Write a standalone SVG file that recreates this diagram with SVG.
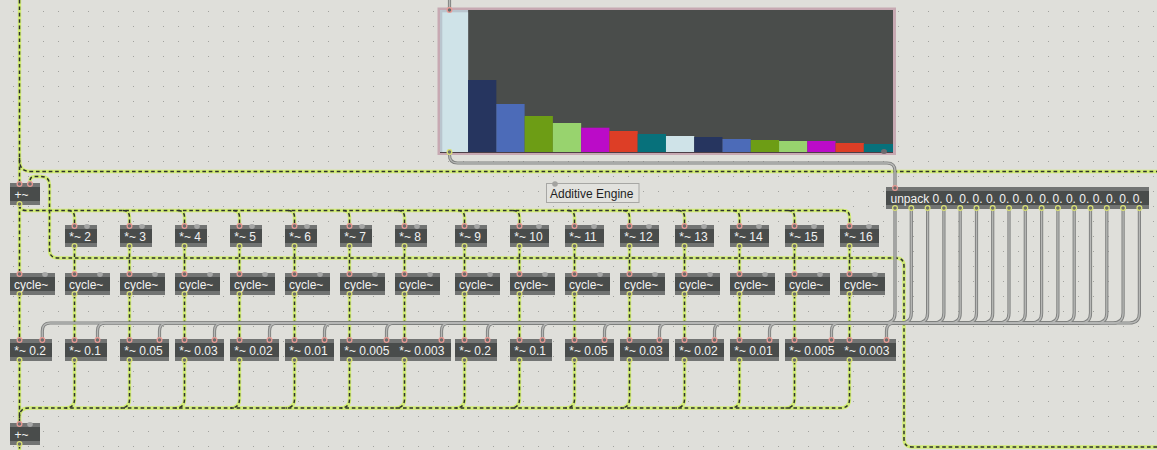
<svg xmlns="http://www.w3.org/2000/svg" xmlns:xlink="http://www.w3.org/1999/xlink" width="1157" height="450" viewBox="0 0 1157 450">
<style>
.sigbase{fill:none;stroke:#d2ec76;stroke-width:3.4}
.sigdash{fill:none;stroke:#2c302d;stroke-width:1.5;stroke-dasharray:3.6 2.8}
.graybase{fill:none;stroke:#7f807f;stroke-width:3.2}
.grayhi{fill:none;stroke:#b7b8b6;stroke-width:1.3}
.st{fill:#727473}
.bx{fill:#494c4b}
.tx{font-family:"Liberation Sans",Arial,sans-serif;font-size:12px;fill:#f2f2f2}
.inc{fill:#6a6c6b;stroke:#eb9b95;stroke-width:1.2}
.inu{fill:#a6a7a6}
.out{fill:#6a6c6b;stroke:#dbe276;stroke-width:1.2}
.cm{font-family:"Liberation Sans",Arial,sans-serif;font-size:12px;fill:#1e1e1e}
</style>
<defs>
<pattern id="grid" width="15" height="15" patternUnits="userSpaceOnUse"><rect x="13" y="11" width="1" height="1" fill="#a2a29e"/></pattern>
</defs>
<rect width="1157" height="450" fill="#dfdfda"/>
<rect width="1157" height="450" fill="url(#grid)"/>

<g id="connectors">
<g class="sigbase"><g id="sigpaths">
<path d="M19.5,0V183"/>
<path d="M19.5,158C19.5,168 22,171.5 32,171.5H1157"/>
<path d="M1157,447H912Q904,447 904,439V266Q904,258 896,258H58Q49.5,258 49.5,250V185Q49.5,176.5 41,176.5H35Q30,176.5 30,181V183"/>
<path d="M19.5,205V273"/>
<path d="M19.5,205Q19.5,210.5 26,210.5H843Q849.5,210.5 849.5,217V225"/>
<path d="M68,210.5Q74.5,210.5 74.5,217V225"/>
<path d="M123,210.5Q129.5,210.5 129.5,217V225"/>
<path d="M178,210.5Q184.5,210.5 184.5,217V225"/>
<path d="M233,210.5Q239.5,210.5 239.5,217V225"/>
<path d="M288,210.5Q294.5,210.5 294.5,217V225"/>
<path d="M343,210.5Q349.5,210.5 349.5,217V225"/>
<path d="M398,210.5Q404.5,210.5 404.5,217V225"/>
<path d="M458,210.5Q464.5,210.5 464.5,217V225"/>
<path d="M513,210.5Q519.5,210.5 519.5,217V225"/>
<path d="M568,210.5Q574.5,210.5 574.5,217V225"/>
<path d="M623,210.5Q629.5,210.5 629.5,217V225"/>
<path d="M678,210.5Q684.5,210.5 684.5,217V225"/>
<path d="M733,210.5Q739.5,210.5 739.5,217V225"/>
<path d="M788,210.5Q794.5,210.5 794.5,217V225"/>
<path d="M74.5,247V273M129.5,247V273M184.5,247V273M239.5,247V273M294.5,247V273M349.5,247V273M404.5,247V273M464.5,247V273M519.5,247V273M574.5,247V273M629.5,247V273M684.5,247V273M739.5,247V273M794.5,247V273M849.5,247V273"/>
<path d="M19.5,295V339M74.5,295V339M129.5,295V339M184.5,295V339M239.5,295V339M294.5,295V339M349.5,295V339M404.5,295V339M464.5,295V339M519.5,295V339M574.5,295V339M629.5,295V339M684.5,295V339M739.5,295V339M794.5,295V339M849.5,295V339"/>
<path d="M19.5,361V423"/>
<path d="M849.5,361V399Q849.5,408 840.5,408H28.5Q19.5,408 19.5,417V423"/>
<path d="M74.5,361V399Q74.5,408 65.5,408"/>
<path d="M129.5,361V399Q129.5,408 120.5,408"/>
<path d="M184.5,361V399Q184.5,408 175.5,408"/>
<path d="M239.5,361V399Q239.5,408 230.5,408"/>
<path d="M294.5,361V399Q294.5,408 285.5,408"/>
<path d="M349.5,361V399Q349.5,408 340.5,408"/>
<path d="M404.5,361V399Q404.5,408 395.5,408"/>
<path d="M464.5,361V399Q464.5,408 455.5,408"/>
<path d="M519.5,361V399Q519.5,408 510.5,408"/>
<path d="M574.5,361V399Q574.5,408 565.5,408"/>
<path d="M629.5,361V399Q629.5,408 620.5,408"/>
<path d="M684.5,361V399Q684.5,408 675.5,408"/>
<path d="M739.5,361V399Q739.5,408 730.5,408"/>
<path d="M794.5,361V399Q794.5,408 785.5,408"/>
<path d="M19.5,445V450"/>
</g></g>
<use xlink:href="#sigpaths" href="#sigpaths" class="sigdash"/>
<g class="graybase"><g id="graypaths">
<path d="M449.5,0V10"/>
<path d="M449.5,152V155Q449.5,163 457.5,163H887Q895,163 895,171V187"/>
<path d="M895,209V313Q895,323 885,323H50.3Q42.3,323 42.3,331V339"/>
<path d="M911.3,209V313Q911.3,323 901.3,323H105.5Q97.5,323 97.5,331V339"/>
<path d="M927.6,209V313Q927.6,323 917.6,323H167.5Q159.5,323 159.5,331V339"/>
<path d="M943.9,209V313Q943.9,323 933.9,323H222.5Q214.5,323 214.5,331V339"/>
<path d="M960.2,209V313Q960.2,323 950.2,323H277.5Q269.5,323 269.5,331V339"/>
<path d="M976.5,209V313Q976.5,323 966.5,323H332.5Q324.5,323 324.5,331V339"/>
<path d="M992.7,209V313Q992.7,323 982.7,323H394.5Q386.5,323 386.5,331V339"/>
<path d="M1009,209V313Q1009,323 999,323H449.5Q441.5,323 441.5,331V339"/>
<path d="M1025.3,209V313Q1025.3,323 1015.3,323H495.5Q487.5,323 487.5,331V339"/>
<path d="M1041.6,209V313Q1041.6,323 1031.6,323H550.5Q542.5,323 542.5,331V339"/>
<path d="M1057.9,209V313Q1057.9,323 1047.9,323H612.5Q604.5,323 604.5,331V339"/>
<path d="M1074.2,209V313Q1074.2,323 1064.2,323H667.5Q659.5,323 659.5,331V339"/>
<path d="M1090.5,209V313Q1090.5,323 1080.5,323H722.5Q714.5,323 714.5,331V339"/>
<path d="M1106.8,209V313Q1106.8,323 1096.8,323H777.5Q769.5,323 769.5,331V339"/>
<path d="M1123.1,209V313Q1123.1,323 1113.1,323H839.5Q831.5,323 831.5,331V339"/>
<path d="M1139.4,209V313Q1139.4,323 1129.4,323H894.5Q886.5,323 886.5,331V339"/>
</g></g>
<use xlink:href="#graypaths" href="#graypaths" class="grayhi"/>
</g>

<g id="n-multislider">
<rect x="437.5" y="7.5" width="458.5" height="147.5" fill="#c7a9b2"/>
<rect x="440" y="10" width="453" height="142" fill="#4a4d4b"/>
<rect x="440" y="10" width="28.1" height="142" fill="#b9c5ce"/>
<rect x="442.3" y="12.3" width="25.8" height="139.7" fill="#cfe3e8"/>
<rect x="468.07" y="80" width="28.27" height="72" fill="#26355f"/>
<rect x="496.34" y="104" width="28.27" height="48" fill="#4c6bb8"/>
<rect x="524.61" y="116" width="28.27" height="36" fill="#6d9d15"/>
<rect x="552.88" y="123" width="28.27" height="29" fill="#98d36e"/>
<rect x="581.15" y="127.7" width="28.27" height="24.3" fill="#bb0bc8"/>
<rect x="609.42" y="131" width="28.27" height="21" fill="#dd3e26"/>
<rect x="637.69" y="134" width="28.27" height="18" fill="#07717b"/>
<rect x="665.96" y="136" width="28.27" height="16" fill="#cfe3e8"/>
<rect x="694.23" y="137" width="28.27" height="15" fill="#26355f"/>
<rect x="722.5" y="139" width="28.27" height="13" fill="#4c6bb8"/>
<rect x="750.77" y="140" width="28.27" height="12" fill="#6d9d15"/>
<rect x="779.04" y="141" width="28.27" height="11" fill="#98d36e"/>
<rect x="807.31" y="141" width="28.27" height="11" fill="#bb0bc8"/>
<rect x="835.58" y="143" width="28.27" height="9" fill="#dd3e26"/>
<rect x="863.85" y="144" width="29.15" height="8" fill="#07717b"/>
<line x1="440" y1="152.5" x2="893" y2="152.5" stroke="#4d3f46" stroke-width="1"/>
<circle class="inc" cx="449.5" cy="10" r="2.4"/>
<circle class="out" cx="449.5" cy="152" r="2.4"/>
<ellipse cx="884" cy="151.5" rx="3" ry="2.5" fill="#6f6a6e"/>
</g>

<g id="n-comment">
<rect x="546.5" y="183.5" width="92.5" height="19" fill="#e2e2de" stroke="#a7a7a4" stroke-width="1"/>
<circle cx="555" cy="184" r="2.8" fill="#a3a3a0"/>
<text class="cm" x="550" y="197.5">Additive Engine</text>
</g>

<g id="n-unpack" transform="translate(886,187)">
<rect class="st" width="263" height="22"/><rect class="bx" y="4" width="263" height="14"/>
<text class="tx" x="4.5" y="15.5">unpack 0. 0. 0. 0. 0. 0. 0. 0. 0. 0. 0. 0. 0. 0. 0. 0.</text>
<circle class="inc" cx="9" cy="1" r="2.4"/>
<g class="out"><circle cx="9" cy="21" r="2.4"/><circle cx="25.3" cy="21" r="2.4"/><circle cx="41.6" cy="21" r="2.4"/><circle cx="57.9" cy="21" r="2.4"/><circle cx="74.2" cy="21" r="2.4"/><circle cx="90.5" cy="21" r="2.4"/><circle cx="106.7" cy="21" r="2.4"/><circle cx="123" cy="21" r="2.4"/><circle cx="139.3" cy="21" r="2.4"/><circle cx="155.6" cy="21" r="2.4"/><circle cx="171.9" cy="21" r="2.4"/><circle cx="188.2" cy="21" r="2.4"/><circle cx="204.5" cy="21" r="2.4"/><circle cx="220.8" cy="21" r="2.4"/><circle cx="237.1" cy="21" r="2.4"/><circle cx="253.4" cy="21" r="2.4"/></g>
</g>

<g id="n-plus-top" transform="translate(10,183)">
<rect class="st" width="30" height="22"/><rect class="bx" y="4" width="30" height="14"/>
<text class="tx" x="4.5" y="15.5">+~</text>
<circle class="inc" cx="9.5" cy="1" r="2.4"/><circle class="inc" cx="20" cy="1" r="2.4"/><circle class="out" cx="9.5" cy="21" r="2.4"/>
</g>

<g id="n-m2" transform="translate(65,225)"><rect class="st" width="32" height="22"/><rect class="bx" y="4" width="32" height="14"/><text class="tx" x="4.3" y="15.5">*~ 2</text><circle class="inc" cx="9.5" cy="1" r="2.4"/><ellipse class="inu" cx="22" cy="1.5" rx="2.8" ry="2.4"/><circle class="out" cx="9.5" cy="21" r="2.4"/></g>
<g id="n-m3" transform="translate(120,225)"><rect class="st" width="32" height="22"/><rect class="bx" y="4" width="32" height="14"/><text class="tx" x="4.3" y="15.5">*~ 3</text><circle class="inc" cx="9.5" cy="1" r="2.4"/><ellipse class="inu" cx="22" cy="1.5" rx="2.8" ry="2.4"/><circle class="out" cx="9.5" cy="21" r="2.4"/></g>
<g id="n-m4" transform="translate(175,225)"><rect class="st" width="32" height="22"/><rect class="bx" y="4" width="32" height="14"/><text class="tx" x="4.3" y="15.5">*~ 4</text><circle class="inc" cx="9.5" cy="1" r="2.4"/><ellipse class="inu" cx="22" cy="1.5" rx="2.8" ry="2.4"/><circle class="out" cx="9.5" cy="21" r="2.4"/></g>
<g id="n-m5" transform="translate(230,225)"><rect class="st" width="32" height="22"/><rect class="bx" y="4" width="32" height="14"/><text class="tx" x="4.3" y="15.5">*~ 5</text><circle class="inc" cx="9.5" cy="1" r="2.4"/><ellipse class="inu" cx="22" cy="1.5" rx="2.8" ry="2.4"/><circle class="out" cx="9.5" cy="21" r="2.4"/></g>
<g id="n-m6" transform="translate(285,225)"><rect class="st" width="32" height="22"/><rect class="bx" y="4" width="32" height="14"/><text class="tx" x="4.3" y="15.5">*~ 6</text><circle class="inc" cx="9.5" cy="1" r="2.4"/><ellipse class="inu" cx="22" cy="1.5" rx="2.8" ry="2.4"/><circle class="out" cx="9.5" cy="21" r="2.4"/></g>
<g id="n-m7" transform="translate(340,225)"><rect class="st" width="32" height="22"/><rect class="bx" y="4" width="32" height="14"/><text class="tx" x="4.3" y="15.5">*~ 7</text><circle class="inc" cx="9.5" cy="1" r="2.4"/><ellipse class="inu" cx="22" cy="1.5" rx="2.8" ry="2.4"/><circle class="out" cx="9.5" cy="21" r="2.4"/></g>
<g id="n-m8" transform="translate(395,225)"><rect class="st" width="32" height="22"/><rect class="bx" y="4" width="32" height="14"/><text class="tx" x="4.3" y="15.5">*~ 8</text><circle class="inc" cx="9.5" cy="1" r="2.4"/><ellipse class="inu" cx="22" cy="1.5" rx="2.8" ry="2.4"/><circle class="out" cx="9.5" cy="21" r="2.4"/></g>
<g id="n-m9" transform="translate(455,225)"><rect class="st" width="32" height="22"/><rect class="bx" y="4" width="32" height="14"/><text class="tx" x="4.3" y="15.5">*~ 9</text><circle class="inc" cx="9.5" cy="1" r="2.4"/><ellipse class="inu" cx="22" cy="1.5" rx="2.8" ry="2.4"/><circle class="out" cx="9.5" cy="21" r="2.4"/></g>
<g id="n-m10" transform="translate(510,225)"><rect class="st" width="39" height="22"/><rect class="bx" y="4" width="39" height="14"/><text class="tx" x="4.3" y="15.5">*~ 10</text><circle class="inc" cx="9.5" cy="1" r="2.4"/><ellipse class="inu" cx="29" cy="1.5" rx="2.8" ry="2.4"/><circle class="out" cx="9.5" cy="21" r="2.4"/></g>
<g id="n-m11" transform="translate(565,225)"><rect class="st" width="39" height="22"/><rect class="bx" y="4" width="39" height="14"/><text class="tx" x="4.3" y="15.5">*~ 11</text><circle class="inc" cx="9.5" cy="1" r="2.4"/><ellipse class="inu" cx="29" cy="1.5" rx="2.8" ry="2.4"/><circle class="out" cx="9.5" cy="21" r="2.4"/></g>
<g id="n-m12" transform="translate(620,225)"><rect class="st" width="39" height="22"/><rect class="bx" y="4" width="39" height="14"/><text class="tx" x="4.3" y="15.5">*~ 12</text><circle class="inc" cx="9.5" cy="1" r="2.4"/><ellipse class="inu" cx="29" cy="1.5" rx="2.8" ry="2.4"/><circle class="out" cx="9.5" cy="21" r="2.4"/></g>
<g id="n-m13" transform="translate(675,225)"><rect class="st" width="39" height="22"/><rect class="bx" y="4" width="39" height="14"/><text class="tx" x="4.3" y="15.5">*~ 13</text><circle class="inc" cx="9.5" cy="1" r="2.4"/><ellipse class="inu" cx="29" cy="1.5" rx="2.8" ry="2.4"/><circle class="out" cx="9.5" cy="21" r="2.4"/></g>
<g id="n-m14" transform="translate(730,225)"><rect class="st" width="39" height="22"/><rect class="bx" y="4" width="39" height="14"/><text class="tx" x="4.3" y="15.5">*~ 14</text><circle class="inc" cx="9.5" cy="1" r="2.4"/><ellipse class="inu" cx="29" cy="1.5" rx="2.8" ry="2.4"/><circle class="out" cx="9.5" cy="21" r="2.4"/></g>
<g id="n-m15" transform="translate(785,225)"><rect class="st" width="39" height="22"/><rect class="bx" y="4" width="39" height="14"/><text class="tx" x="4.3" y="15.5">*~ 15</text><circle class="inc" cx="9.5" cy="1" r="2.4"/><ellipse class="inu" cx="29" cy="1.5" rx="2.8" ry="2.4"/><circle class="out" cx="9.5" cy="21" r="2.4"/></g>
<g id="n-m16" transform="translate(840,225)"><rect class="st" width="39" height="22"/><rect class="bx" y="4" width="39" height="14"/><text class="tx" x="4.3" y="15.5">*~ 16</text><circle class="inc" cx="9.5" cy="1" r="2.4"/><ellipse class="inu" cx="29" cy="1.5" rx="2.8" ry="2.4"/><circle class="out" cx="9.5" cy="21" r="2.4"/></g>

<g id="n-cyc1" transform="translate(10,273)"><rect class="st" width="45" height="22"/><rect class="bx" y="4" width="45" height="14"/><text class="tx" x="4" y="15.5">cycle~</text><circle class="inc" cx="9.5" cy="1" r="2.4"/><ellipse class="inu" cx="35" cy="1.5" rx="2.8" ry="2.4"/><circle class="out" cx="9.5" cy="21" r="2.4"/></g>
<g id="n-cyc2" transform="translate(65,273)"><rect class="st" width="45" height="22"/><rect class="bx" y="4" width="45" height="14"/><text class="tx" x="4" y="15.5">cycle~</text><circle class="inc" cx="9.5" cy="1" r="2.4"/><ellipse class="inu" cx="35" cy="1.5" rx="2.8" ry="2.4"/><circle class="out" cx="9.5" cy="21" r="2.4"/></g>
<g id="n-cyc3" transform="translate(120,273)"><rect class="st" width="45" height="22"/><rect class="bx" y="4" width="45" height="14"/><text class="tx" x="4" y="15.5">cycle~</text><circle class="inc" cx="9.5" cy="1" r="2.4"/><ellipse class="inu" cx="35" cy="1.5" rx="2.8" ry="2.4"/><circle class="out" cx="9.5" cy="21" r="2.4"/></g>
<g id="n-cyc4" transform="translate(175,273)"><rect class="st" width="45" height="22"/><rect class="bx" y="4" width="45" height="14"/><text class="tx" x="4" y="15.5">cycle~</text><circle class="inc" cx="9.5" cy="1" r="2.4"/><ellipse class="inu" cx="35" cy="1.5" rx="2.8" ry="2.4"/><circle class="out" cx="9.5" cy="21" r="2.4"/></g>
<g id="n-cyc5" transform="translate(230,273)"><rect class="st" width="45" height="22"/><rect class="bx" y="4" width="45" height="14"/><text class="tx" x="4" y="15.5">cycle~</text><circle class="inc" cx="9.5" cy="1" r="2.4"/><ellipse class="inu" cx="35" cy="1.5" rx="2.8" ry="2.4"/><circle class="out" cx="9.5" cy="21" r="2.4"/></g>
<g id="n-cyc6" transform="translate(285,273)"><rect class="st" width="45" height="22"/><rect class="bx" y="4" width="45" height="14"/><text class="tx" x="4" y="15.5">cycle~</text><circle class="inc" cx="9.5" cy="1" r="2.4"/><ellipse class="inu" cx="35" cy="1.5" rx="2.8" ry="2.4"/><circle class="out" cx="9.5" cy="21" r="2.4"/></g>
<g id="n-cyc7" transform="translate(340,273)"><rect class="st" width="45" height="22"/><rect class="bx" y="4" width="45" height="14"/><text class="tx" x="4" y="15.5">cycle~</text><circle class="inc" cx="9.5" cy="1" r="2.4"/><ellipse class="inu" cx="35" cy="1.5" rx="2.8" ry="2.4"/><circle class="out" cx="9.5" cy="21" r="2.4"/></g>
<g id="n-cyc8" transform="translate(395,273)"><rect class="st" width="45" height="22"/><rect class="bx" y="4" width="45" height="14"/><text class="tx" x="4" y="15.5">cycle~</text><circle class="inc" cx="9.5" cy="1" r="2.4"/><ellipse class="inu" cx="35" cy="1.5" rx="2.8" ry="2.4"/><circle class="out" cx="9.5" cy="21" r="2.4"/></g>
<g id="n-cyc9" transform="translate(455,273)"><rect class="st" width="45" height="22"/><rect class="bx" y="4" width="45" height="14"/><text class="tx" x="4" y="15.5">cycle~</text><circle class="inc" cx="9.5" cy="1" r="2.4"/><ellipse class="inu" cx="35" cy="1.5" rx="2.8" ry="2.4"/><circle class="out" cx="9.5" cy="21" r="2.4"/></g>
<g id="n-cyc10" transform="translate(510,273)"><rect class="st" width="45" height="22"/><rect class="bx" y="4" width="45" height="14"/><text class="tx" x="4" y="15.5">cycle~</text><circle class="inc" cx="9.5" cy="1" r="2.4"/><ellipse class="inu" cx="35" cy="1.5" rx="2.8" ry="2.4"/><circle class="out" cx="9.5" cy="21" r="2.4"/></g>
<g id="n-cyc11" transform="translate(565,273)"><rect class="st" width="45" height="22"/><rect class="bx" y="4" width="45" height="14"/><text class="tx" x="4" y="15.5">cycle~</text><circle class="inc" cx="9.5" cy="1" r="2.4"/><ellipse class="inu" cx="35" cy="1.5" rx="2.8" ry="2.4"/><circle class="out" cx="9.5" cy="21" r="2.4"/></g>
<g id="n-cyc12" transform="translate(620,273)"><rect class="st" width="45" height="22"/><rect class="bx" y="4" width="45" height="14"/><text class="tx" x="4" y="15.5">cycle~</text><circle class="inc" cx="9.5" cy="1" r="2.4"/><ellipse class="inu" cx="35" cy="1.5" rx="2.8" ry="2.4"/><circle class="out" cx="9.5" cy="21" r="2.4"/></g>
<g id="n-cyc13" transform="translate(675,273)"><rect class="st" width="45" height="22"/><rect class="bx" y="4" width="45" height="14"/><text class="tx" x="4" y="15.5">cycle~</text><circle class="inc" cx="9.5" cy="1" r="2.4"/><ellipse class="inu" cx="35" cy="1.5" rx="2.8" ry="2.4"/><circle class="out" cx="9.5" cy="21" r="2.4"/></g>
<g id="n-cyc14" transform="translate(730,273)"><rect class="st" width="45" height="22"/><rect class="bx" y="4" width="45" height="14"/><text class="tx" x="4" y="15.5">cycle~</text><circle class="inc" cx="9.5" cy="1" r="2.4"/><ellipse class="inu" cx="35" cy="1.5" rx="2.8" ry="2.4"/><circle class="out" cx="9.5" cy="21" r="2.4"/></g>
<g id="n-cyc15" transform="translate(785,273)"><rect class="st" width="45" height="22"/><rect class="bx" y="4" width="45" height="14"/><text class="tx" x="4" y="15.5">cycle~</text><circle class="inc" cx="9.5" cy="1" r="2.4"/><ellipse class="inu" cx="35" cy="1.5" rx="2.8" ry="2.4"/><circle class="out" cx="9.5" cy="21" r="2.4"/></g>
<g id="n-cyc16" transform="translate(840,273)"><rect class="st" width="45" height="22"/><rect class="bx" y="4" width="45" height="14"/><text class="tx" x="4" y="15.5">cycle~</text><circle class="inc" cx="9.5" cy="1" r="2.4"/><ellipse class="inu" cx="35" cy="1.5" rx="2.8" ry="2.4"/><circle class="out" cx="9.5" cy="21" r="2.4"/></g>

<g id="n-g1" transform="translate(10,339)"><rect class="st" width="42" height="22"/><rect class="bx" y="4" width="42" height="14"/><text class="tx" x="4.3" y="15.5">*~ 0.2</text><circle class="inc" cx="9.5" cy="1" r="2.4"/><circle class="inc" cx="32.3" cy="1" r="2.4"/><circle class="out" cx="9.5" cy="21" r="2.4"/></g>
<g id="n-g2" transform="translate(65,339)"><rect class="st" width="42" height="22"/><rect class="bx" y="4" width="42" height="14"/><text class="tx" x="4.3" y="15.5">*~ 0.1</text><circle class="inc" cx="9.5" cy="1" r="2.4"/><circle class="inc" cx="32.5" cy="1" r="2.4"/><circle class="out" cx="9.5" cy="21" r="2.4"/></g>
<g id="n-g3" transform="translate(120,339)"><rect class="st" width="49" height="22"/><rect class="bx" y="4" width="49" height="14"/><text class="tx" x="4.3" y="15.5">*~ 0.05</text><circle class="inc" cx="9.5" cy="1" r="2.4"/><circle class="inc" cx="39.5" cy="1" r="2.4"/><circle class="out" cx="9.5" cy="21" r="2.4"/></g>
<g id="n-g4" transform="translate(175,339)"><rect class="st" width="49" height="22"/><rect class="bx" y="4" width="49" height="14"/><text class="tx" x="4.3" y="15.5">*~ 0.03</text><circle class="inc" cx="9.5" cy="1" r="2.4"/><circle class="inc" cx="39.5" cy="1" r="2.4"/><circle class="out" cx="9.5" cy="21" r="2.4"/></g>
<g id="n-g5" transform="translate(230,339)"><rect class="st" width="49" height="22"/><rect class="bx" y="4" width="49" height="14"/><text class="tx" x="4.3" y="15.5">*~ 0.02</text><circle class="inc" cx="9.5" cy="1" r="2.4"/><circle class="inc" cx="39.5" cy="1" r="2.4"/><circle class="out" cx="9.5" cy="21" r="2.4"/></g>
<g id="n-g6" transform="translate(285,339)"><rect class="st" width="49" height="22"/><rect class="bx" y="4" width="49" height="14"/><text class="tx" x="4.3" y="15.5">*~ 0.01</text><circle class="inc" cx="9.5" cy="1" r="2.4"/><circle class="inc" cx="39.5" cy="1" r="2.4"/><circle class="out" cx="9.5" cy="21" r="2.4"/></g>
<g id="n-g7" transform="translate(340,339)"><rect class="st" width="56" height="22"/><rect class="bx" y="4" width="56" height="14"/><text class="tx" x="4.3" y="15.5">*~ 0.005</text><circle class="inc" cx="9.5" cy="1" r="2.4"/><circle class="inc" cx="46.5" cy="1" r="2.4"/><circle class="out" cx="9.5" cy="21" r="2.4"/></g>
<g id="n-g8" transform="translate(395,339)"><rect class="st" width="56" height="22"/><rect class="bx" y="4" width="56" height="14"/><text class="tx" x="4.3" y="15.5">*~ 0.003</text><circle class="inc" cx="9.5" cy="1" r="2.4"/><circle class="inc" cx="46.5" cy="1" r="2.4"/><circle class="out" cx="9.5" cy="21" r="2.4"/></g>
<g id="n-g9" transform="translate(455,339)"><rect class="st" width="42" height="22"/><rect class="bx" y="4" width="42" height="14"/><text class="tx" x="4.3" y="15.5">*~ 0.2</text><circle class="inc" cx="9.5" cy="1" r="2.4"/><circle class="inc" cx="32.5" cy="1" r="2.4"/><circle class="out" cx="9.5" cy="21" r="2.4"/></g>
<g id="n-g10" transform="translate(510,339)"><rect class="st" width="42" height="22"/><rect class="bx" y="4" width="42" height="14"/><text class="tx" x="4.3" y="15.5">*~ 0.1</text><circle class="inc" cx="9.5" cy="1" r="2.4"/><circle class="inc" cx="32.5" cy="1" r="2.4"/><circle class="out" cx="9.5" cy="21" r="2.4"/></g>
<g id="n-g11" transform="translate(565,339)"><rect class="st" width="49" height="22"/><rect class="bx" y="4" width="49" height="14"/><text class="tx" x="4.3" y="15.5">*~ 0.05</text><circle class="inc" cx="9.5" cy="1" r="2.4"/><circle class="inc" cx="39.5" cy="1" r="2.4"/><circle class="out" cx="9.5" cy="21" r="2.4"/></g>
<g id="n-g12" transform="translate(620,339)"><rect class="st" width="49" height="22"/><rect class="bx" y="4" width="49" height="14"/><text class="tx" x="4.3" y="15.5">*~ 0.03</text><circle class="inc" cx="9.5" cy="1" r="2.4"/><circle class="inc" cx="39.5" cy="1" r="2.4"/><circle class="out" cx="9.5" cy="21" r="2.4"/></g>
<g id="n-g13" transform="translate(675,339)"><rect class="st" width="49" height="22"/><rect class="bx" y="4" width="49" height="14"/><text class="tx" x="4.3" y="15.5">*~ 0.02</text><circle class="inc" cx="9.5" cy="1" r="2.4"/><circle class="inc" cx="39.5" cy="1" r="2.4"/><circle class="out" cx="9.5" cy="21" r="2.4"/></g>
<g id="n-g14" transform="translate(730,339)"><rect class="st" width="49" height="22"/><rect class="bx" y="4" width="49" height="14"/><text class="tx" x="4.3" y="15.5">*~ 0.01</text><circle class="inc" cx="9.5" cy="1" r="2.4"/><circle class="inc" cx="39.5" cy="1" r="2.4"/><circle class="out" cx="9.5" cy="21" r="2.4"/></g>
<g id="n-g15" transform="translate(785,339)"><rect class="st" width="56" height="22"/><rect class="bx" y="4" width="56" height="14"/><text class="tx" x="4.3" y="15.5">*~ 0.005</text><circle class="inc" cx="9.5" cy="1" r="2.4"/><circle class="inc" cx="46.5" cy="1" r="2.4"/><circle class="out" cx="9.5" cy="21" r="2.4"/></g>
<g id="n-g16" transform="translate(840,339)"><rect class="st" width="56" height="22"/><rect class="bx" y="4" width="56" height="14"/><text class="tx" x="4.3" y="15.5">*~ 0.003</text><circle class="inc" cx="9.5" cy="1" r="2.4"/><circle class="inc" cx="46.5" cy="1" r="2.4"/><circle class="out" cx="9.5" cy="21" r="2.4"/></g>

<g id="n-plus-bottom" transform="translate(10,423)">
<rect class="st" width="30" height="22"/><rect class="bx" y="4" width="30" height="14"/>
<text class="tx" x="4.5" y="15.5">+~</text>
<circle class="inc" cx="9.5" cy="1" r="2.4"/><ellipse class="inu" cx="20" cy="1.5" rx="2.8" ry="2.4"/><circle class="out" cx="9.5" cy="21" r="2.4"/>
</g>
</svg>
